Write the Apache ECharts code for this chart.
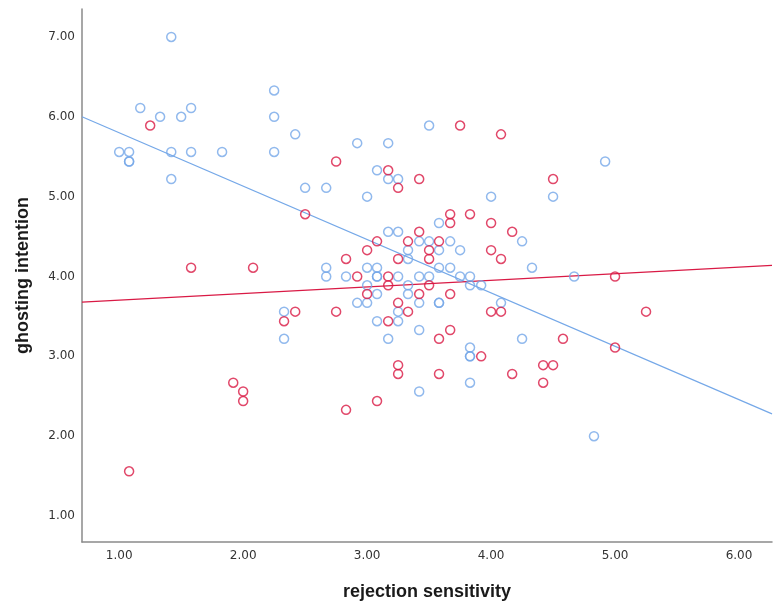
<!DOCTYPE html>
<html>
<head>
<meta charset="utf-8">
<script src="https://cdn.jsdelivr.net/npm/echarts@6/dist/echarts.min.js"></script>
<style>
  html, body { margin: 0; padding: 0; background: #fff; }
  #chart-container { width: 773px; height: 606px; }
</style>
</head>
<body>
<div id="chart-container"></div>
<script>
// group 1 (blue) points: [rejection sensitivity, ghosting intention]
const puntosAzul = [
  [1.42, 7.00], [2.25, 6.33], [1.17, 6.11], [1.33, 6.00], [1.50, 6.00], [1.58, 6.11],
  [2.25, 6.00], [2.42, 5.78], [1.00, 5.56], [1.08, 5.56], [1.08, 5.44], [1.08, 5.44],
  [1.42, 5.56], [1.58, 5.56], [1.83, 5.56], [2.25, 5.56], [1.42, 5.22], [2.50, 5.11],
  [2.67, 5.11], [2.67, 4.11], [2.67, 4.00], [2.92, 5.67], [3.17, 5.67], [3.50, 5.89],
  [3.08, 5.33], [3.17, 5.22], [3.25, 5.22], [3.00, 5.00], [3.17, 4.56], [3.25, 4.56],
  [3.58, 4.67], [2.83, 4.00], [3.00, 4.11], [3.08, 4.11], [3.00, 3.89], [3.08, 4.00],
  [3.08, 4.00], [3.25, 4.00], [3.08, 3.78], [3.33, 4.33], [3.33, 4.22], [3.42, 4.44],
  [3.50, 4.44], [3.67, 4.44], [3.58, 4.11], [3.67, 4.11], [3.33, 3.89], [3.42, 4.00],
  [3.50, 4.00], [3.33, 3.78], [4.00, 5.00], [4.50, 5.00], [4.25, 4.44], [3.75, 4.33],
  [3.58, 4.33], [4.33, 4.11], [3.75, 4.00], [3.83, 4.00], [3.83, 3.89], [3.92, 3.89],
  [4.67, 4.00], [3.42, 3.67], [3.58, 3.67], [3.58, 3.67], [4.08, 3.67], [3.25, 3.56],
  [3.25, 3.44], [3.42, 3.33], [4.25, 3.22], [3.83, 3.11], [3.83, 3.00], [3.83, 3.00],
  [3.83, 2.67], [3.42, 2.56], [4.83, 2.00], [2.92, 3.67], [3.00, 3.67], [2.33, 3.56],
  [3.08, 3.44], [2.33, 3.22], [3.17, 3.22], [4.92, 5.44]
];

// group 2 (red) points
const puntosRojo = [
  [1.25, 5.89], [2.75, 5.44], [2.50, 4.78], [1.58, 4.11], [2.08, 4.11], [3.17, 5.33],
  [3.25, 5.11], [3.42, 5.22], [3.42, 4.56], [3.08, 4.44], [3.33, 4.44], [3.00, 4.33],
  [3.50, 4.33], [3.50, 4.22], [3.25, 4.22], [2.83, 4.22], [2.92, 4.00], [3.17, 4.00],
  [3.17, 3.89], [3.00, 3.78], [3.42, 3.78], [3.50, 3.89], [3.75, 5.89], [4.08, 5.78],
  [4.50, 5.22], [3.67, 4.78], [3.67, 4.67], [3.83, 4.78], [4.00, 4.67], [4.17, 4.56],
  [3.58, 4.44], [4.00, 4.33], [4.08, 4.22], [3.67, 3.78], [3.25, 3.67], [3.33, 3.56],
  [4.00, 3.56], [4.08, 3.56], [3.67, 3.33], [3.58, 3.22], [4.58, 3.22], [3.92, 3.00],
  [4.42, 2.89], [4.50, 2.89], [3.25, 2.89], [3.25, 2.78], [3.58, 2.78], [4.17, 2.78],
  [4.42, 2.67], [2.42, 3.56], [2.75, 3.56], [2.33, 3.44], [3.17, 3.44], [2.00, 2.56],
  [2.00, 2.44], [3.08, 2.44], [2.83, 2.33], [5.00, 4.00], [5.25, 3.56], [5.00, 3.11],
  [1.92, 2.67], [1.08, 1.56]
];

// fit lines (end points at the axis limits)
const ajusteAzul = [[0.70, 6.00], [6.266, 2.28]];
const ajusteRojo = [[0.70, 3.68], [6.266, 4.14]];

// tick labels
const ticksX = [1, 2, 3, 4, 5, 6];
const ticksY = [1, 2, 3, 4, 5, 6, 7];

const AZUL = '#75a8e8';
const ROJO = '#d91a45';

let myChart = echarts.init(document.getElementById('chart-container'), null, {
  renderer: 'canvas'
});

const estiloEje = {
  axisLine: { show: true, lineStyle: { color: '#8a8a8a', width: 1.5 } },
  axisTick: { show: false },
  splitLine: { show: false },
  nameLocation: 'middle',
  nameTextStyle: {
    fontFamily: 'Liberation Sans',
    fontWeight: 'bold',
    fontSize: 18,
    color: '#1a1a1a'
  }
};

const opciones = {
  animation: false,
  grid: { left: 82, right: 1, top: 9, bottom: 63, containLabel: false },
  xAxis: Object.assign({}, estiloEje, {
    type: 'value',
    min: 0.70,
    max: 6.266,
    name: 'rejection sensitivity',
    nameGap: 41,
    axisLabel: {
      customValues: ticksX,
      formatter: v => v.toFixed(2),
      fontFamily: 'DejaVu Sans',
      fontSize: 12,
      color: '#333',
      margin: 8
    }
  }),
  yAxis: Object.assign({}, estiloEje, {
    type: 'value',
    min: 0.675,
    max: 7.35,
    name: 'ghosting intention',
    nameGap: 50,
    nameRotate: 90,
    axisLabel: {
      customValues: ticksY,
      formatter: v => v.toFixed(2),
      fontFamily: 'DejaVu Sans',
      fontSize: 12,
      color: '#333',
      margin: 7
    }
  }),
  series: [
    {
      type: 'line',
      data: ajusteAzul,
      showSymbol: false,
      silent: true,
      lineStyle: { color: AZUL, width: 1.2 },
      z: 1
    },
    {
      type: 'line',
      data: ajusteRojo,
      showSymbol: false,
      silent: true,
      lineStyle: { color: ROJO, width: 1.2 },
      z: 1
    },
    {
      type: 'scatter',
      data: puntosAzul,
      symbol: 'circle',
      symbolSize: 9,
      itemStyle: { color: 'rgba(0,0,0,0)', borderColor: AZUL, borderWidth: 1.5 },
      z: 2
    },
    {
      type: 'scatter',
      data: puntosRojo,
      symbol: 'circle',
      symbolSize: 9,
      itemStyle: { color: 'rgba(0,0,0,0)', borderColor: ROJO, borderWidth: 1.5 },
      z: 3
    }
  ]
};

myChart.setOption(opciones);
window.addEventListener('resize', myChart.resize);
</script>
</body>
</html>
